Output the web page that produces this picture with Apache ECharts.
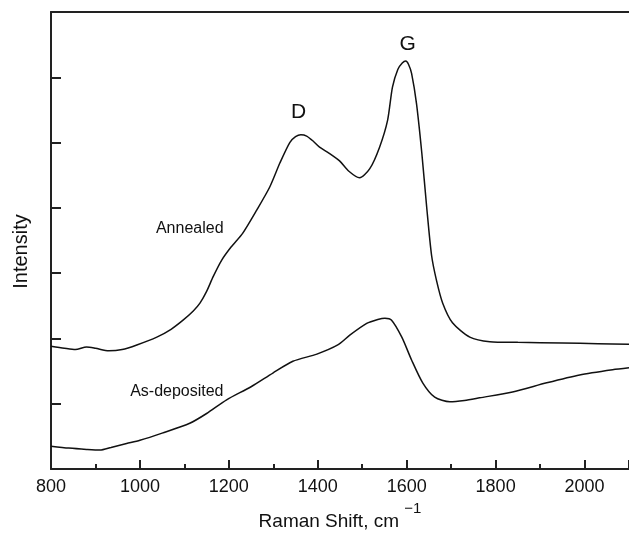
<!DOCTYPE html>
<html>
<head>
<meta charset="utf-8">
<script src="https://cdn.jsdelivr.net/npm/echarts@6/dist/echarts.min.js"></script>
<style>html,body{margin:0;padding:0;background:#fff}#c{width:629px;height:535px}</style>
</head>
<body>
<div id="c"></div>
<script>
// Raman shift (cm^-1) and intensity (arb.)
const annealedShift = [800,830,855,880,900,930,960,993,1038,1070,1097,1120,1135,1150,1165,1184,1205,1231,1263,1292,1315,1337,1350,1362,1375,1390,1404,1425,1449,1470,1494,1517,1539,1557,1568,1580,1590,1598,1604,1611,1622,1634,1645,1656,1667,1681,1703,1742,1787,1850,1950,2030,2100];
const annealedIntensity = [1.88,1.85,1.83,1.87,1.85,1.81,1.83,1.90,2.02,2.14,2.28,2.42,2.54,2.72,2.95,3.20,3.40,3.61,3.97,4.32,4.69,5.00,5.09,5.12,5.10,5.02,4.93,4.84,4.72,4.56,4.46,4.60,4.93,5.34,5.85,6.12,6.22,6.25,6.20,6.06,5.60,4.84,4.01,3.27,2.89,2.54,2.24,2.02,1.95,1.94,1.93,1.92,1.91];
const asDepShift = [800,840,880,910,935,970,1000,1050,1112,1150,1195,1250,1299,1344,1398,1445,1472,1510,1535,1551,1566,1589,1611,1636,1663,1697,1730,1764,1838,1915,1989,2063,2100];
const asDepIntensity = [0.35,0.32,0.30,0.29,0.33,0.39,0.44,0.55,0.70,0.85,1.06,1.26,1.47,1.65,1.76,1.90,2.05,2.23,2.29,2.31,2.28,2.02,1.67,1.32,1.10,1.03,1.05,1.09,1.18,1.32,1.44,1.52,1.55];
const xTicks = [800,1000,1200,1400,1600,1800,2000];
const annotations = [
  {text:'D', x:1357, y:5.47, size:21},
  {text:'G', x:1602, y:6.51, size:21},
  {text:'Annealed', x:1112, y:3.69, size:16},
  {text:'As-deposited', x:1083, y:1.18, size:16}
];

const FONT = '"Liberation Sans", Arial, sans-serif';
const pair = (xs, ys) => xs.map((x, i) => [x, ys[i]]);

const chart = echarts.init(document.getElementById('c'));
chart.setOption({
  animation: false,
  backgroundColor: '#fff',
  grid: {left: 51, right: 0, top: 12, bottom: 66, containLabel: false, outerBoundsMode: 'none'},
  xAxis: [{
    type: 'value', min: 800, max: 2100, interval: 200,
    axisLine: {show: true, lineStyle: {color: '#222', width: 2}},
    axisTick: {show: true, inside: true, length: 9, lineStyle: {color: '#222', width: 2}},
    minorTick: {show: true, splitNumber: 2, length: 5, lineStyle: {color: '#222', width: 2}},
    splitLine: {show: false},
    axisLabel: {
      margin: 9, fontFamily: FONT, fontSize: 18, color: '#111',
      formatter: v => xTicks.indexOf(v) >= 0 ? String(v) : ''
    },
    name: 'Raman Shift, cm {sup|−1}',
    nameLocation: 'middle', nameGap: 32,
    nameTextStyle: {
      fontFamily: FONT, fontSize: 19, color: '#111',
      rich: {sup: {fontFamily: FONT, fontSize: 15, color: '#111', verticalAlign: 'top', padding: [0, 0, 27, 0]}}
    }
  }, {
    type: 'value', position: 'top', min: 800, max: 2100,
    axisLine: {show: true, lineStyle: {color: '#222', width: 2}},
    axisTick: {show: false}, axisLabel: {show: false}, splitLine: {show: false}
  }],
  yAxis: {
    type: 'value', min: 0, max: 7, interval: 1,
    axisLine: {show: true, lineStyle: {color: '#222', width: 2}},
    axisTick: {show: true, inside: true, length: 10, lineStyle: {color: '#222', width: 2}},
    axisLabel: {show: false},
    splitLine: {show: false},
    name: 'Intensity', nameLocation: 'middle', nameGap: 20,
    nameTextStyle: {fontFamily: FONT, fontSize: 20, color: '#111', padding: [0, 22, 0, 0]}
  },
  series: [
    {type: 'line', data: pair(annealedShift, annealedIntensity), showSymbol: false, smooth: 0.25,
     lineStyle: {color: '#111', width: 1.5}, silent: true},
    {type: 'line', data: pair(asDepShift, asDepIntensity), showSymbol: false, smooth: 0.25,
     lineStyle: {color: '#111', width: 1.5}, silent: true},
    {type: 'scatter', silent: true, symbolSize: 1, itemStyle: {color: 'rgba(0,0,0,0)'},
     data: annotations.map(a => ({value: [a.x, a.y], name: a.text,
       label: {show: true, position: 'inside', formatter: a.text, fontFamily: FONT, fontSize: a.size,
               color: '#111', textBorderWidth: 0, opacity: 1}}))}
  ]
});
</script>
</body>
</html>
